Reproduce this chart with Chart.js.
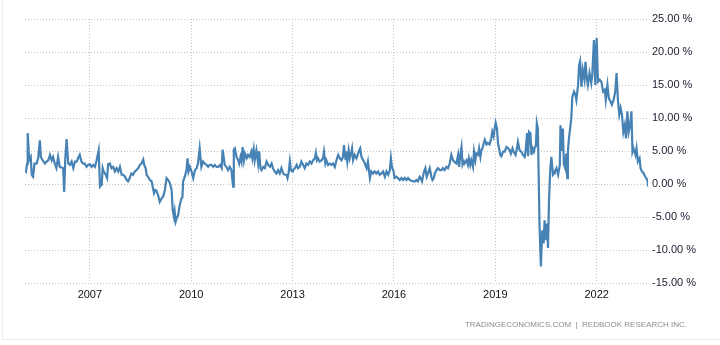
<!DOCTYPE html>
<html>
<head>
<meta charset="utf-8">
<script src="https://cdn.jsdelivr.net/npm/chart.js@4.4.0/dist/chart.umd.min.js"></script>
<style>
  html, body { margin: 0; padding: 0; background: #fff; }
  #wrap { position: relative; width: 720px; height: 345px; }
  #frame { position: absolute; left: 2px; top: 0; width: 718px; height: 339px;
           border-left: 1px solid #ececec; border-bottom: 1px solid #ececec; }
  #source { position: absolute; right: 33px; top: 320px;
            font: 8px "Liberation Sans", Arial, sans-serif; color: #8c8c8c; }
</style>
</head>
<body>
<div id="wrap">
  <div id="frame"></div>
  <canvas id="grafico"></canvas>
  <div id="source">TRADINGECONOMICS.COM &nbsp;|&nbsp; REDBOOK RESEARCH INC.</div>
</div>
<script>
// fechas en años decimales, valores en % interanual
const years = [
  2005.08, 2005.11, 2005.14, 2005.16, 2005.19, 2005.20, 2005.25, 2005.28, 2005.32, 2005.36,
  2005.42, 2005.47, 2005.52, 2005.55, 2005.60, 2005.67, 2005.72, 2005.77, 2005.82, 2005.87,
  2005.91, 2005.96, 2006.01, 2006.06, 2006.11, 2006.16, 2006.21, 2006.24, 2006.27, 2006.31,
  2006.36, 2006.41, 2006.46, 2006.51, 2006.56, 2006.61, 2006.65, 2006.70, 2006.75, 2006.80,
  2006.85, 2006.90, 2006.95, 2007.00, 2007.05, 2007.10, 2007.15, 2007.20, 2007.26, 2007.30,
  2007.35, 2007.38, 2007.41, 2007.47, 2007.51, 2007.54, 2007.59, 2007.64, 2007.69, 2007.74,
  2007.79, 2007.84, 2007.89, 2007.94, 2007.99, 2008.04, 2008.09, 2008.13, 2008.18, 2008.23,
  2008.28, 2008.33, 2008.38, 2008.43, 2008.48, 2008.53, 2008.58, 2008.61, 2008.65, 2008.68,
  2008.72, 2008.78, 2008.83, 2008.87, 2008.90, 2008.94, 2008.97, 2009.02, 2009.07, 2009.12,
  2009.17, 2009.22, 2009.27, 2009.32, 2009.37, 2009.42, 2009.45, 2009.49, 2009.51, 2009.54,
  2009.58, 2009.61, 2009.66, 2009.71, 2009.74, 2009.76, 2009.81, 2009.86, 2009.89, 2009.92,
  2009.96, 2010.01, 2010.06, 2010.11, 2010.16, 2010.20, 2010.25, 2010.30, 2010.35, 2010.40,
  2010.45, 2010.50, 2010.55, 2010.60, 2010.65, 2010.70, 2010.75, 2010.80, 2010.85, 2010.90,
  2010.93, 2010.96, 2010.99, 2011.04, 2011.09, 2011.14, 2011.19, 2011.24, 2011.26, 2011.29,
  2011.34, 2011.39, 2011.42, 2011.46, 2011.49, 2011.52, 2011.56, 2011.59, 2011.64, 2011.68,
  2011.73, 2011.78, 2011.81, 2011.85, 2011.88, 2011.93, 2011.98, 2012.01, 2012.05, 2012.08,
  2012.13, 2012.18, 2012.23, 2012.28, 2012.33, 2012.38, 2012.42, 2012.47, 2012.52, 2012.57,
  2012.62, 2012.67, 2012.72, 2012.77, 2012.82, 2012.85, 2012.88, 2012.92, 2012.95, 2012.99,
  2013.01, 2013.07, 2013.12, 2013.16, 2013.21, 2013.26, 2013.31, 2013.36, 2013.41, 2013.46,
  2013.51, 2013.56, 2013.61, 2013.66, 2013.69, 2013.72, 2013.75, 2013.80, 2013.86, 2013.90,
  2013.93, 2013.97, 2014.00, 2014.05, 2014.10, 2014.15, 2014.20, 2014.25, 2014.30, 2014.35,
  2014.40, 2014.45, 2014.49, 2014.52, 2014.57, 2014.59, 2014.62, 2014.66, 2014.69, 2014.74,
  2014.76, 2014.79, 2014.84, 2014.89, 2014.94, 2014.97, 2015.00, 2015.04, 2015.09, 2015.14,
  2015.19, 2015.23, 2015.26, 2015.29, 2015.33, 2015.38, 2015.43, 2015.48, 2015.53, 2015.58,
  2015.63, 2015.68, 2015.73, 2015.78, 2015.83, 2015.88, 2015.91, 2015.94, 2015.99, 2016.02,
  2016.07, 2016.12, 2016.17, 2016.22, 2016.27, 2016.32, 2016.37, 2016.42, 2016.47, 2016.52,
  2016.57, 2016.62, 2016.67, 2016.71, 2016.76, 2016.79, 2016.83, 2016.89, 2016.93, 2016.97,
  2017.01, 2017.06, 2017.11, 2017.14, 2017.18, 2017.21, 2017.26, 2017.30, 2017.36, 2017.41,
  2017.45, 2017.50, 2017.55, 2017.60, 2017.65, 2017.70, 2017.75, 2017.80, 2017.85, 2017.90,
  2017.93, 2017.97, 2018.00, 2018.03, 2018.07, 2018.09, 2018.15, 2018.19, 2018.22, 2018.26,
  2018.29, 2018.34, 2018.37, 2018.41, 2018.44, 2018.49, 2018.52, 2018.56, 2018.59, 2018.62,
  2018.66, 2018.69, 2018.74, 2018.78, 2018.83, 2018.88, 2018.91, 2018.95, 2018.98, 2019.01,
  2019.05, 2019.08, 2019.11, 2019.15, 2019.18, 2019.23, 2019.28, 2019.33, 2019.38, 2019.43,
  2019.46, 2019.51, 2019.54, 2019.60, 2019.64, 2019.67, 2019.72, 2019.77, 2019.82, 2019.87,
  2019.90, 2019.94, 2019.97, 2020.00, 2020.04, 2020.07, 2020.10, 2020.14, 2020.17, 2020.20,
  2020.23, 2020.26, 2020.31, 2020.35, 2020.39, 2020.43, 2020.46, 2020.49, 2020.53, 2020.56,
  2020.59, 2020.63, 2020.66, 2020.71, 2020.74, 2020.76, 2020.81, 2020.86, 2020.91, 2020.93,
  2020.97, 2021.00, 2021.03, 2021.07, 2021.10, 2021.13, 2021.15, 2021.18, 2021.21, 2021.25,
  2021.28, 2021.33, 2021.37, 2021.40, 2021.45, 2021.48, 2021.51, 2021.55, 2021.59, 2021.64,
  2021.67, 2021.71, 2021.74, 2021.79, 2021.84, 2021.87, 2021.92, 2021.96, 2022.00, 2022.04,
  2022.09, 2022.14, 2022.19, 2022.24, 2022.27, 2022.32, 2022.36, 2022.41, 2022.45, 2022.50,
  2022.55, 2022.59, 2022.63, 2022.67, 2022.71, 2022.75, 2022.79, 2022.83, 2022.87, 2022.91,
  2022.95, 2022.99, 2023.03, 2023.06, 2023.09, 2023.15, 2023.18, 2023.22, 2023.27, 2023.30,
  2023.34, 2023.38, 2023.44, 2023.50, 2023.53
];

const values = [
  2.1, 1.9, 3.0, 7.7, 5.0, 3.6, 4.1, 1.4, 1.1, 3.1,
  3.1, 3.9, 6.6, 4.1, 3.6, 3.1, 3.4, 3.6, 4.4, 3.6,
  4.1, 3.1, 2.4, 4.1, 2.6, 2.5, 2.4, -1.2, 3.6, 6.8,
  3.1, 2.9, 3.4, 2.4, 3.4, 3.4, 3.9, 4.4, 3.4, 3.1,
  3.1, 2.6, 2.9, 3.0, 2.6, 2.9, 2.6, 3.6, 5.1, -0.4,
  -0.1, 2.4, 1.9, 1.4, 0.9, 3.0, 3.1, 2.4, 2.6, 1.9,
  2.4, 1.9, 2.6, 1.4, 1.4, 1.1, 0.6, 0.4, 0.9, 1.6,
  1.4, 1.9, 2.1, 2.4, 2.9, 3.1, 3.7, 2.9, 2.4, 1.4,
  1.1, 0.6, 0.4, -0.7, -1.4, -0.9, -1.0, -1.7, -2.7, -2.2,
  -1.9, -0.9, 0.9, 0.6, 0.1, -0.9, -3.9, -5.0, -4.2, -5.7,
  -5.0, -4.8, -3.2, -2.2, -2.0, 0.4, 1.1, 2.1, 3.9, 1.9,
  2.6, 1.9, 0.9, 2.1, 2.4, 3.1, 5.4, 2.6, 3.4, 3.1,
  2.9, 2.6, 2.9, 2.9, 2.6, 2.9, 2.6, 2.6, 2.9, 2.4,
  5.2, 4.1, 2.9, 2.6, 2.1, 2.6, 2.1, -0.4, 5.2, 5.4,
  4.1, 3.6, 3.1, 4.1, 3.4, 5.6, 3.6, 4.6, 3.9, 4.4,
  4.1, 4.9, 3.9, 5.3, 3.6, 5.1, 3.1, 5.0, 2.4, 2.1,
  2.6, 2.4, 3.4, 2.9, 2.6, 3.1, 2.4, 1.9, 1.6, 2.1,
  1.6, 2.4, 1.6, 1.4, 1.4, 0.9, 1.6, 3.4, 2.1, 1.9,
  2.1, 2.4, 2.9, 2.4, 2.6, 3.4, 2.9, 2.4, 3.1, 2.9,
  3.4, 3.1, 3.6, 3.9, 4.7, 3.6, 3.9, 3.4, 3.6, 3.9,
  4.9, 3.1, 3.6, 2.9, 3.1, 2.9, 3.1, 2.6, 3.6, 4.4,
  3.9, 3.6, 4.1, 5.9, 3.6, 4.9, 3.4, 5.1, 3.9, 4.9,
  5.4, 3.6, 4.4, 3.9, 4.6, 5.1, 5.4, 4.1, 3.6, 3.1,
  2.4, 3.4, 2.1, 0.9, 1.9, 1.6, 1.9, 1.6, 1.9, 1.4,
  1.6, 1.9, 1.1, 1.9, 1.4, 2.1, 3.9, 2.6, 1.9, 0.9,
  1.1, 0.9, 0.6, 0.9, 0.6, 0.9, 0.6, 0.9, 0.6, 0.5,
  0.4, 0.4, 0.6, 0.4, 1.1, 0.9, 0.4, 1.9, 2.4, 1.1,
  1.6, 2.4, 1.1, 0.6, 0.9, 1.6, 2.1, 2.4, 2.1, 2.1,
  2.4, 2.1, 2.6, 2.4, 3.1, 4.4, 3.6, 3.3, 3.1, 4.4,
  2.6, 4.6, 5.6, 2.9, 3.4, 3.1, 3.6, 2.9, 3.9, 2.9,
  3.6, 2.6, 4.9, 3.6, 4.6, 4.4, 5.4, 4.1, 5.1, 5.4,
  6.2, 6.7, 6.0, 6.2, 6.0, 6.9, 7.9, 7.2, 8.4, 9.3,
  8.4, 6.2, 5.4, 4.4, 4.2, 4.9, 4.9, 5.6, 5.4, 5.1,
  4.6, 5.4, 4.9, 4.4, 5.4, 6.4, 5.1, 4.9, 4.4, 4.1,
  5.1, 7.7, 4.2, 7.9, 7.7, 4.4, 5.4, 4.9, 5.6, 5.7,
  9.2, 8.4, -6.5, -12.5, -7.0, -9.0, -5.5, -8.5, -6.0, -9.7,
  -2.4, 2.4, 4.1, 1.4, 1.6, 1.9, 2.4, 1.4, 2.9, 8.9,
  5.0, 8.4, 3.0, 2.4, 4.6, 0.9, 5.0, 6.9, 8.2, 10.0,
  13.2, 14.0, 13.5, 12.7, 15.0, 18.0, 18.6, 14.7, 17.3, 15.8,
  18.5, 16.0, 15.0, 16.8, 15.3, 16.5, 21.8, 15.0, 22.1, 15.5,
  15.8, 15.5, 14.0, 14.3, 12.7, 15.0, 13.0, 12.5, 12.0, 12.7,
  14.0, 16.8, 12.7, 10.5, 11.5, 10.5, 7.9, 8.9, 6.9, 11.0,
  7.9, 8.9, 11.0, 4.9, 5.4, 4.4, 5.4, 3.4, 3.9, 2.4,
  1.9, 1.7, 1.1, 0.6, -0.4
];

const yearTicks = [2007, 2010, 2013, 2016, 2019, 2022];
const yMin = -15;
const yMax = 25;
const yStep = 5;

const puntos = years.map((y, i) => ({ x: y, y: values[i] }));

// rejilla punteada
const gridStyle = {
  color: "#c4c4c4",
  lineWidth: 1,
  drawTicks: false,
  borderDash: () => [1, 2],
};
const borderStyle = {
  display: false,
  dash: () => [1, 2],
};

new Chart(document.getElementById("grafico"), {
  type: "line",
  data: {
    datasets: [
      {
        label: "Redbook",
        data: puntos,
        borderColor: "#4682b4",
        borderWidth: 2.2,
        pointRadius: 0,
        tension: 0,
        fill: false,
      },
    ],
  },
  options: {
    responsive: true,
    maintainAspectRatio: false,
    animation: false,
    layout: { padding: { left: 25, top: 19, right: 0, bottom: 0 } },
    scales: {
      x: {
        type: "linear",
        min: 2005.08,
        max: 2023.52,
        grid: gridStyle,
        border: borderStyle,
        afterBuildTicks: (scale) => {
          scale.ticks = yearTicks.map((v) => ({ value: v }));
        },
        afterFit: (scale) => {
          scale.height = 62;
        },
        ticks: {
          padding: 5,
          autoSkip: false,
          maxRotation: 0,
          color: "#111",
          font: { family: "Liberation Sans", size: 11 },
          callback: (v) => String(v),
        },
      },
      y: {
        position: "right",
        min: yMin,
        max: yMax,
        grid: gridStyle,
        border: borderStyle,
        afterFit: (scale) => {
          scale.width = 72;
        },
        ticks: {
          stepSize: yStep,
          padding: 4,
          color: "#1a1a2e",
          font: { family: "Liberation Sans", size: 11 },
          callback: (v) => v.toFixed(2) + " %",
        },
      },
    },
    plugins: {
      legend: { display: false },
      tooltip: { enabled: false },
    },
  },
});
</script>
</body>
</html>
